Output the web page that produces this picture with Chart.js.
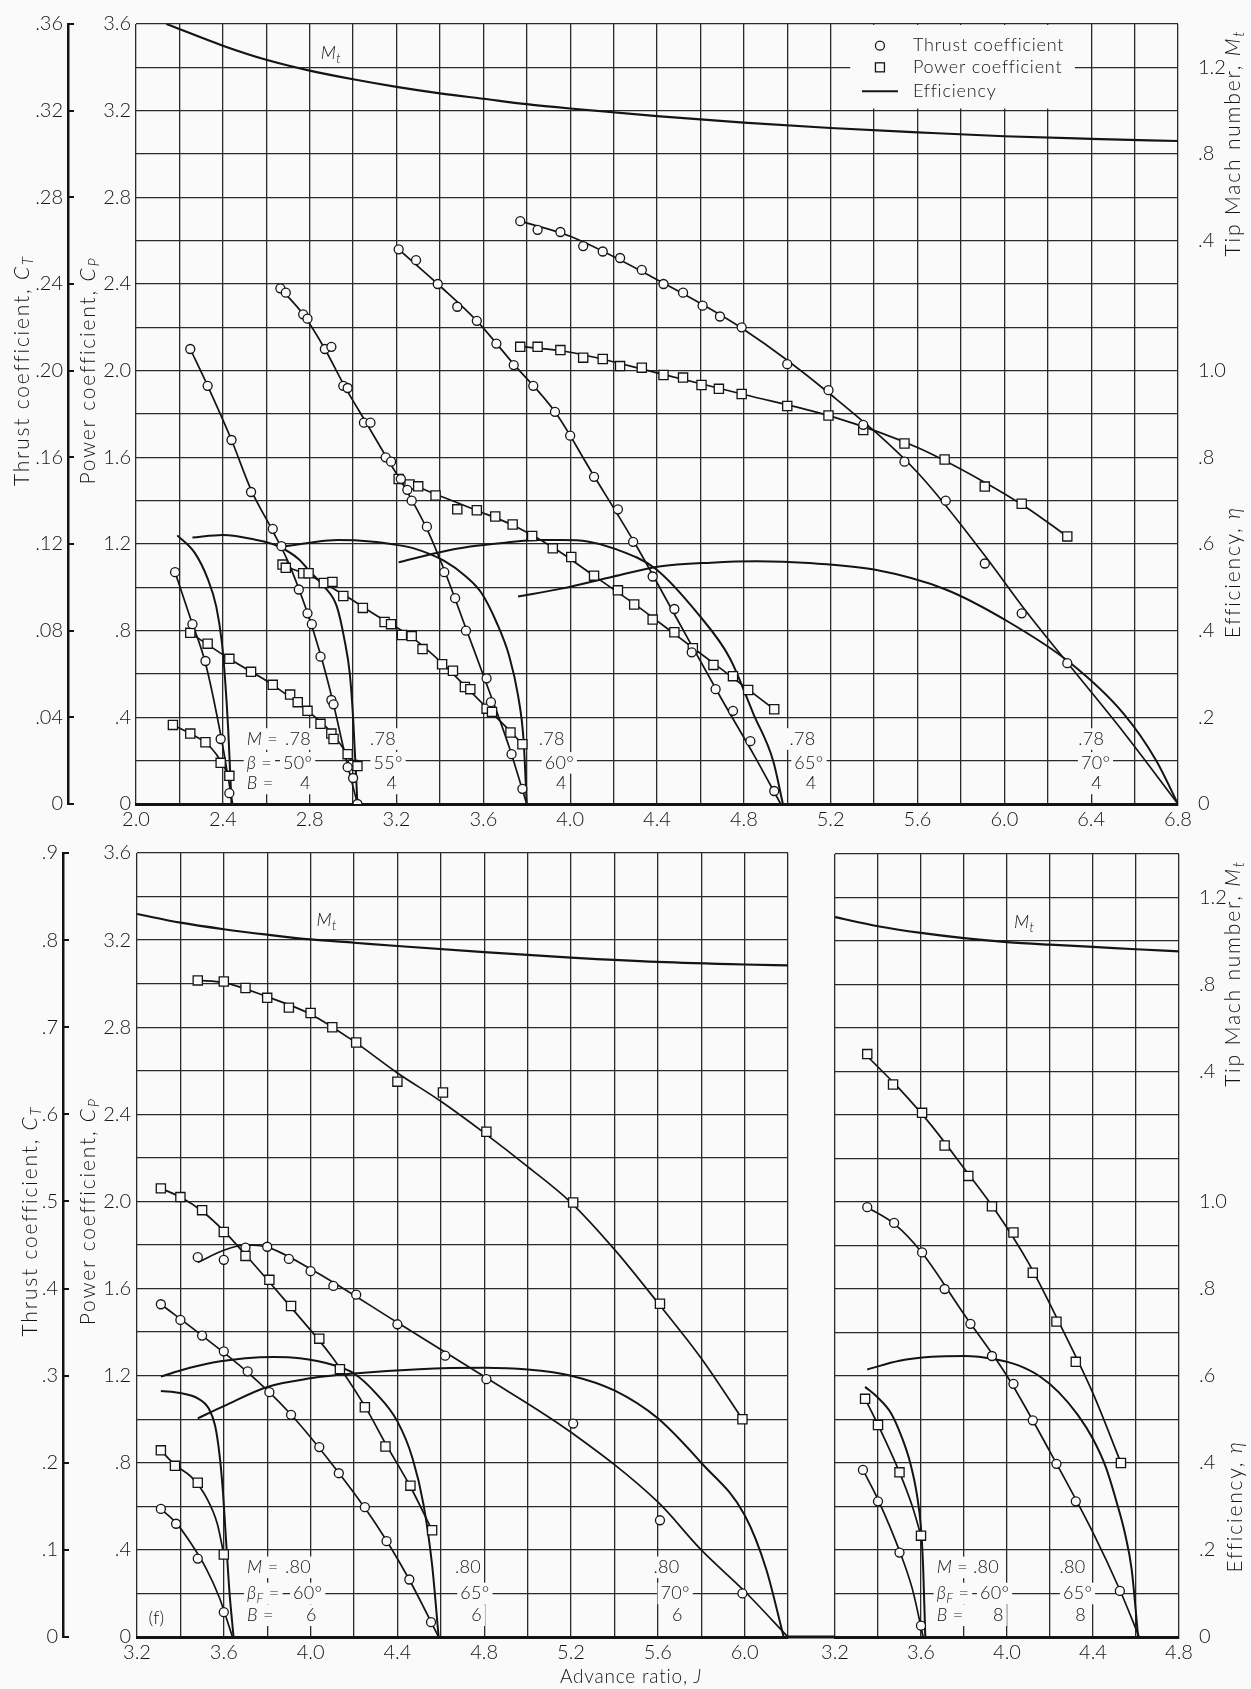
<!DOCTYPE html>
<html>
<head>
<meta charset="utf-8">
<title>Propeller thrust, power and efficiency</title>
<script src="https://cdn.jsdelivr.net/npm/chart.js"></script>
<style>
  body { margin: 0; background: #fafafa; }
  #sheet { position: relative; width: 1251px; height: 1689px; overflow: hidden; }
  #sheet canvas { position: absolute; }
</style>
</head>
<body>
<div id="sheet">
  <canvas id="upper" width="1251" height="845" style="left:0px;top:0px"></canvas>
  <canvas id="lowerLeft" width="800" height="859" style="left:0px;top:830px"></canvas>
  <canvas id="lowerRight" width="463" height="859" style="left:788px;top:830px"></canvas>
</div>

<script>
// ---------- tick labels ----------
const upperJLabels = ['2.0', '2.4', '2.8', '3.2', '3.6', '4.0', '4.4', '4.8', '5.2', '5.6', '6.0', '6.4', '6.8'];
const lowerLeftJLabels = ['3.2', '3.6', '4.0', '4.4', '4.8', '5.2', '5.6', '6.0'];
const lowerRightJLabels = ['3.2', '3.6', '4.0', '4.4', '4.8'];
const cpLabels = ['0', '.4', '.8', '1.2', '1.6', '2.0', '2.4', '2.8', '3.2', '3.6'];
const ctUpperLabels = ['0', '.04', '.08', '.12', '.16', '.20', '.24', '.28', '.32', '.36'];
const ctLowerLabels = ['0', '.1', '.2', '.3', '.4', '.5', '.6', '.7', '.8', '.9'];
const machLabels = ['.4', '.8', '1.2'];
const etaLabels = ['0', '.2', '.4', '.6', '.8', '1.0'];
const legendLabels = ['Thrust coefficient', 'Power coefficient', 'Efficiency'];

// ---------- configurations (M, blade angle, blade count) ----------
const mach4 = ['.78', '.78', '.78', '.78', '.78'];
const beta4 = ['50°', '55°', '60°', '65°', '70°'];
const blades4 = ['4', '4', '4', '4', '4'];
const mach6 = ['.80', '.80', '.80'];
const beta6 = ['60°', '65°', '70°'];
const blades6 = ['6', '6', '6'];
const mach8 = ['.80', '.80'];
const beta8 = ['60°', '65°'];
const blades8 = ['8', '8'];

// ---------- upper panel, B = 4, M = .78 ----------
const mt4J = [2.14, 2.4, 2.6, 2.8, 3.0, 3.2, 3.4, 3.6, 3.8, 4.0, 4.4, 4.8, 5.2, 5.6, 6.0, 6.4, 6.8];
const mt4 = [1.40, 1.30, 1.235, 1.185, 1.145, 1.11, 1.08, 1.055, 1.03, 1.01, .975, .945, .92, .90, .882, .87, .86];

// beta 50
const thr50J = [2.18, 2.26, 2.32, 2.39, 2.43];
const thr50 = [.107, .083, .066, .030, .005];
const thr50FitJ = [2.18, 2.25, 2.32, 2.39, 2.445];
const thr50Fit = [.107, .086, .065, .032, 0];
const pow50J = [2.17, 2.25, 2.32, 2.39, 2.43];
const pow50 = [.365, .325, .285, .19, .13];
const pow50FitJ = [2.17, 2.25, 2.32, 2.37, 2.40, 2.43];
const pow50Fit = [.365, .325, .283, .23, .18, .13];
const eff50J = [2.19, 2.27, 2.33, 2.37, 2.395, 2.41, 2.425, 2.44];
const eff50 = [.62, .58, .52, .455, .375, .29, .17, 0];

// beta 55
const thr55J = [2.25, 2.33, 2.44, 2.53, 2.63, 2.67, 2.75, 2.79, 2.81, 2.85, 2.90, 2.91, 2.975, 3.00, 3.02];
const thr55 = [.210, .193, .168, .144, .127, .119, .099, .088, .083, .068, .048, .046, .017, .012, 0];
const thr55FitJ = [2.25, 2.33, 2.44, 2.53, 2.63, 2.70, 2.78, 2.85, 2.91, 2.96, 3.02];
const thr55Fit = [.210, .193, .168, .145, .126, .112, .091, .069, .046, .024, 0];
const pow55J = [2.25, 2.33, 2.43, 2.53, 2.63, 2.71, 2.745, 2.79, 2.85, 2.90, 2.91, 2.975, 3.00, 3.02];
const pow55 = [.79, .74, .67, .61, .55, .505, .47, .43, .37, .325, .30, .23, .18, .175];
const pow55FitJ = [2.25, 2.43, 2.63, 2.79, 2.90, 2.96, 3.00, 3.02];
const pow55Fit = [.79, .67, .55, .43, .33, .25, .19, .175];
const eff55J = [2.26, 2.40, 2.55, 2.65, 2.75, 2.80, 2.87, 2.925, 2.96, 2.985, 3.00, 3.02];
const eff55 = [.615, .621, .61, .596, .565, .537, .50, .456, .38, .30, .20, 0];

// beta 60
const thr60J = [2.665, 2.69, 2.77, 2.79, 2.87, 2.90, 2.955, 2.975, 3.05, 3.08, 3.15, 3.175, 3.22, 3.25, 3.27, 3.34, 3.42, 3.47, 3.52, 3.615, 3.635, 3.73, 3.78];
const thr60 = [.238, .236, .226, .224, .210, .211, .193, .192, .176, .176, .160, .158, .150, .145, .140, .128, .107, .095, .080, .058, .047, .023, .007];
const thr60FitJ = [2.665, 2.77, 2.87, 2.96, 3.06, 3.16, 3.25, 3.34, 3.42, 3.52, 3.62, 3.72, 3.80];
const thr60Fit = [.238, .226, .210, .193, .176, .159, .144, .127, .108, .081, .054, .026, 0];
const pow60J = [2.675, 2.69, 2.77, 2.795, 2.865, 2.905, 2.955, 3.045, 3.145, 3.175, 3.225, 3.27, 3.32, 3.41, 3.46, 3.515, 3.54, 3.615, 3.64, 3.725, 3.78];
const pow60 = [1.105, 1.09, 1.065, 1.065, 1.02, 1.025, .96, .905, .84, .83, .78, .775, .715, .645, .615, .54, .53, .44, .425, .33, .276];
const pow60FitJ = [2.675, 2.80, 2.95, 3.10, 3.27, 3.41, 3.52, 3.62, 3.73, 3.78];
const pow60Fit = [1.10, 1.055, .97, .875, .77, .65, .54, .44, .33, .276];
const eff60J = [2.68, 2.80, 2.93, 3.08, 3.20, 3.28, 3.42, 3.52, 3.59, 3.66, 3.72, 3.76, 3.785, 3.80];
const eff60 = [.594, .603, .609, .606, .598, .59, .561, .525, .488, .42, .34, .25, .15, 0];

// beta 65
const thr65J = [3.21, 3.29, 3.39, 3.48, 3.57, 3.66, 3.74, 3.83, 3.93, 4.00, 4.11, 4.22, 4.29, 4.38, 4.48, 4.56, 4.67, 4.75, 4.83, 4.94];
const thr65 = [.256, .251, .240, .2295, .223, .2125, .2026, .193, .181, .170, .151, .136, .121, .105, .090, .070, .053, .043, .029, .006];
const thr65FitJ = [3.21, 3.39, 3.57, 3.74, 3.93, 4.10, 4.30, 4.50, 4.70, 4.85, 4.97];
const thr65Fit = [.256, .240, .223, .203, .181, .153, .120, .084, .048, .022, 0];
const pow65J = [3.21, 3.26, 3.30, 3.38, 3.48, 3.57, 3.655, 3.735, 3.825, 3.92, 4.005, 4.11, 4.22, 4.295, 4.38, 4.48, 4.565, 4.66, 4.75, 4.82, 4.94];
const pow65 = [1.50, 1.475, 1.466, 1.424, 1.36, 1.356, 1.327, 1.29, 1.237, 1.18, 1.14, 1.054, .986, .921, .851, .793, .719, .642, .59, .526, .437];
const pow65FitJ = [3.21, 3.38, 3.57, 3.74, 3.92, 4.10, 4.30, 4.50, 4.70, 4.94];
const pow65Fit = [1.50, 1.43, 1.355, 1.285, 1.185, 1.06, .92, .77, .62, .437];
const eff65J = [3.21, 3.39, 3.54, 3.70, 3.85, 3.96, 4.08, 4.20, 4.39, 4.59, 4.735, 4.845, 4.935, 4.98];
const eff65 = [.558, .58, .594, .603, .609, .609, .606, .59, .544, .438, .337, .207, .10, 0];

// beta 70
const thr70J = [3.77, 3.85, 3.955, 4.06, 4.15, 4.23, 4.33, 4.43, 4.52, 4.61, 4.69, 4.79, 5.00, 5.19, 5.35, 5.54, 5.73, 5.91, 6.08, 6.29];
const thr70 = [.269, .265, .264, .2575, .255, .252, .2465, .240, .236, .230, .225, .220, .203, .191, .175, .158, .140, .111, .088, .065];
const thr70FitJ = [3.77, 4.0, 4.4, 4.8, 5.2, 5.6, 5.9, 6.1, 6.3, 6.55, 6.8];
const thr70Fit = [.269, .262, .242, .219, .189, .153, .116, .089, .064, .033, 0];
const pow70J = [3.77, 3.85, 3.955, 4.06, 4.15, 4.23, 4.33, 4.43, 4.52, 4.605, 4.685, 4.79, 5.00, 5.19, 5.35, 5.54, 5.725, 5.91, 6.08, 6.29];
const pow70 = [2.11, 2.11, 2.095, 2.06, 2.054, 2.021, 2.014, 1.98, 1.968, 1.934, 1.916, 1.892, 1.837, 1.793, 1.726, 1.664, 1.59, 1.465, 1.386, 1.235];
const pow70FitJ = [3.77, 4.0, 4.4, 4.8, 5.2, 5.6, 5.9, 6.1, 6.29];
const pow70Fit = [2.112, 2.085, 1.99, 1.89, 1.79, 1.645, 1.49, 1.37, 1.235];
const eff70J = [3.76, 3.96, 4.2, 4.41, 4.65, 4.86, 5.1, 5.4, 5.73, 6.02, 6.3, 6.55, 6.7, 6.8];
const eff70 = [.479, .497, .525, .548, .557, .56, .556, .541, .495, .42, .327, .208, .10, 0];

// ---------- lower left panel, B = 6, M = .80 ----------
const mt6J = [3.2, 3.4, 3.6, 3.8, 4.0, 4.2, 4.4, 4.8, 5.2, 5.6, 6.0, 6.2];
const mt6 = [1.12, 1.08, 1.05, 1.025, 1.003, .988, .973, .945, .92, .90, .888, .884];

const thr60b6J = [3.31, 3.38, 3.48, 3.60];
const thr60b6 = [.147, .13, .09, .0285];
const thr60b6FitJ = [3.31, 3.38, 3.45, 3.52, 3.58, 3.64];
const thr60b6Fit = [.147, .131, .107, .078, .045, 0];
const pow60b6J = [3.31, 3.375, 3.48, 3.60];
const pow60b6 = [.857, .786, .708, .379];
const pow60b6FitJ = [3.31, 3.375, 3.45, 3.52, 3.57, 3.60];
const pow60b6Fit = [.857, .79, .735, .64, .52, .38];
const eff60b6J = [3.31, 3.40, 3.48, 3.53, 3.56, 3.58, 3.595, 3.61, 3.625, 3.645];
const eff60b6 = [.565, .56, .548, .525, .485, .42, .34, .225, .11, 0];

const thr65b6J = [3.31, 3.40, 3.50, 3.60, 3.71, 3.81, 3.91, 4.04, 4.13, 4.25, 4.35, 4.455, 4.555];
const thr65b6 = [.382, .364, .346, .328, .305, .281, .255, .218, .188, .149, .110, .066, .017];
const thr65b6FitJ = [3.31, 3.5, 3.7, 3.9, 4.1, 4.3, 4.45, 4.59];
const thr65b6Fit = [.382, .346, .306, .258, .198, .130, .068, 0];
const pow65b6J = [3.31, 3.40, 3.50, 3.60, 3.70, 3.81, 3.91, 4.04, 4.135, 4.25, 4.345, 4.46, 4.56];
const pow65b6 = [2.06, 2.02, 1.96, 1.86, 1.75, 1.64, 1.52, 1.37, 1.23, 1.055, .875, .695, .49];
const pow65b6FitJ = [3.31, 3.4, 3.5, 3.6, 3.7, 3.9, 4.1, 4.25, 4.35, 4.46, 4.56];
const pow65b6Fit = [2.06, 2.02, 1.955, 1.865, 1.755, 1.525, 1.285, 1.06, .88, .69, .49];
const eff65b6J = [3.31, 3.40, 3.55, 3.70, 3.83, 3.95, 4.10, 4.20, 4.30, 4.40, 4.47, 4.52, 4.56, 4.59];
const eff65b6 = [.598, .612, .63, .64, .643, .64, .625, .605, .56, .495, .41, .305, .165, 0];

const thr70b6J = [3.48, 3.60, 3.70, 3.80, 3.90, 4.00, 4.105, 4.21, 4.40, 4.62, 4.81, 5.21, 5.61, 5.99];
const thr70b6 = [.436, .433, .447, .448, .434, .42, .403, .393, .359, .323, .296, .245, .134, .050];
const thr70b6FitJ = [3.48, 3.6, 3.7, 3.8, 4.0, 4.4, 4.8, 5.2, 5.6, 5.8, 6.0, 6.2];
const thr70b6Fit = [.43, .444, .45, .4475, .4225, .361, .299, .235, .155, .10, .0525, 0];
const pow70b6J = [3.48, 3.60, 3.70, 3.80, 3.90, 4.00, 4.10, 4.21, 4.40, 4.61, 4.81, 5.21, 5.61, 5.99];
const pow70b6 = [3.015, 3.01, 2.98, 2.935, 2.89, 2.865, 2.80, 2.73, 2.55, 2.50, 2.32, 1.995, 1.53, 1.0];
const pow70b6FitJ = [3.48, 3.6, 3.8, 4.0, 4.2, 4.4, 4.6, 4.8, 5.0, 5.2, 5.4, 5.6, 5.8, 5.99];
const pow70b6Fit = [3.015, 3.005, 2.94, 2.86, 2.735, 2.59, 2.46, 2.315, 2.16, 1.995, 1.78, 1.535, 1.28, 1.0];
const eff70b6J = [3.48, 3.6, 3.8, 4.0, 4.2, 4.5, 4.8, 5.0, 5.2, 5.4, 5.6, 5.8, 6.0, 6.1, 6.18];
const eff70b6 = [.502, .53, .574, .594, .605, .615, .618, .614, .60, .566, .502, .40, .28, .155, 0];

// ---------- lower right panel, B = 8, M = .80 ----------
const mt8J = [3.2, 3.4, 3.6, 3.8, 4.0, 4.2, 4.4, 4.6, 4.8];
const mt8 = [1.11, 1.068, 1.037, 1.013, .995, .983, .973, .962, .952];

const thr60b8J = [3.33, 3.40, 3.50, 3.60];
const thr60b8 = [.192, .156, .097, .013];
const thr60b8FitJ = [3.33, 3.40, 3.50, 3.56, 3.61];
const thr60b8Fit = [.192, .158, .099, .055, 0];
const pow60b8J = [3.34, 3.40, 3.50, 3.60];
const pow60b8 = [1.095, .975, .757, .466];
const pow60b8FitJ = [3.34, 3.40, 3.50, 3.56, 3.60];
const pow60b8Fit = [1.095, .975, .757, .60, .466];
const eff60b8J = [3.34, 3.40, 3.46, 3.51, 3.55, 3.58, 3.60, 3.61, 3.62];
const eff60b8 = [.575, .55, .515, .46, .40, .33, .25, .16, 0];

const thr65b8J = [3.35, 3.475, 3.605, 3.71, 3.83, 3.93, 4.03, 4.12, 4.23, 4.32, 4.525];
const thr65b8 = [.494, .476, .442, .40, .36, .323, .291, .249, .199, .156, .053];
const thr65b8FitJ = [3.35, 3.48, 3.6, 3.8, 4.0, 4.2, 4.4, 4.525, 4.615];
const thr65b8Fit = [.494, .474, .443, .371, .30, .213, .12, .054, 0];
const pow65b8J = [3.35, 3.47, 3.605, 3.71, 3.82, 3.93, 4.03, 4.12, 4.23, 4.32, 4.53];
const pow65b8 = [2.68, 2.54, 2.41, 2.26, 2.12, 1.98, 1.86, 1.675, 1.45, 1.265, .80];
const pow65b8FitJ = [3.35, 3.5, 3.65, 3.8, 3.95, 4.1, 4.25, 4.4, 4.53];
const pow65b8Fit = [2.67, 2.52, 2.35, 2.155, 1.955, 1.72, 1.43, 1.12, .80];
const eff65b8J = [3.35, 3.5, 3.65, 3.80, 3.95, 4.05, 4.15, 4.24, 4.33, 4.40, 4.46, 4.51, 4.55, 4.58, 4.61];
const eff65b8 = [.615, .635, .644, .646, .638, .625, .60, .563, .51, .455, .39, .31, .235, .155, 0];

// ---------- look ----------
const INK = '#141414';
const GRID = '#2a2a2a';
const PAPER = '#fafafa';
const FAMILY = 'Lato, "DejaVu Sans", sans-serif';
const WEIGHT = '300';

// the Mach and efficiency scales share the power-coefficient grid
const MACH_RANGE = [-2.2, 1.4];
const ETA_RANGE = [0, 1.8];
const machToEta = m => (m - MACH_RANGE[0]) / (MACH_RANGE[1] - MACH_RANGE[0]) * (ETA_RANGE[1] - ETA_RANGE[0]) + ETA_RANGE[0];

Chart.defaults.font.family = FAMILY;
Chart.defaults.font.size = 20;
Chart.defaults.font.weight = WEIGHT;
Chart.defaults.color = INK;

const xy = (xs, ys) => xs.map((x, i) => ({ x: x, y: ys[i] }));
const near = (a, b) => Math.abs(a - b) < 1e-6;
const pick = labels => v => {
  const i = labels.findIndex(l => near(parseFloat(l), v));
  return i < 0 ? '' : labels[i];
};

function marks(xs, ys, axis, shape) {
  return {
    data: xy(xs, ys), yAxisID: axis, showLine: false,
    pointStyle: shape, pointRadius: shape === 'rect' ? 6.5 : 4.5,
    pointBackgroundColor: PAPER, pointBorderColor: INK, pointBorderWidth: 1.3,
    order: 0
  };
}

function curve(xs, ys, axis, width) {
  return {
    data: xy(xs, ys), yAxisID: axis, borderColor: INK, borderWidth: width,
    pointRadius: 0, cubicInterpolationMode: 'monotone', fill: false, order: 1
  };
}

// one blade-angle family: faired thrust, power and efficiency curves plus test points
function family(tJ, t, tfJ, tf, pJ, p, pfJ, pf, eJ, e) {
  return [
    curve(tfJ, tf, 'yCT', 1.7),
    curve(pfJ, pf, 'y', 1.7),
    curve(eJ, e, 'yEta', 2.0),
    marks(tJ, t, 'yCT', 'circle'),
    marks(pJ, p, 'y', 'rect')
  ];
}

// ---------- axes ----------
function jAxis(min, max, labels, height) {
  return {
    type: 'linear', position: 'bottom', min: min, max: max,
    ticks: { stepSize: 0.2, autoSkip: false, maxRotation: 0, minRotation: 0, padding: 4, callback: pick(labels) },
    grid: { color: GRID, lineWidth: 1.3, drawTicks: false },
    border: { color: INK, width: 3 },
    afterFit: s => { s.height = height; }
  };
}

function cpAxis(width, pad, showLabels) {
  return {
    type: 'linear', position: 'left', weight: 0, min: 0, max: 3.6,
    ticks: { display: showLabels, stepSize: 0.2, autoSkip: false, padding: pad, callback: pick(cpLabels) },
    grid: { color: GRID, lineWidth: 1.3, drawTicks: false },
    border: { display: false },
    afterFit: s => { s.width = width; }
  };
}

function ctAxis(max, step, labels, width, show) {
  return {
    type: 'linear', position: 'left', weight: 1, min: 0, max: max, display: show,
    ticks: { stepSize: step, autoSkip: false, padding: 11, callback: pick(labels) },
    grid: { drawOnChartArea: false, tickLength: -6, color: INK, lineWidth: 2 },
    border: { color: INK, width: 2.5 },
    afterFit: s => { s.width = width; }
  };
}

// hidden Mach scale: only maps the tip Mach number curve
function machAxis() {
  return {
    type: 'linear', position: 'right', min: MACH_RANGE[0], max: MACH_RANGE[1], display: false,
    afterFit: s => { s.width = 0; }
  };
}

// right-hand scale carries both the efficiency and the tip Mach number labels
function sideAxis(width, show) {
  return {
    type: 'linear', position: 'right', min: ETA_RANGE[0], max: ETA_RANGE[1], display: show,
    afterBuildTicks: s => {
      const vals = etaLabels.map(l => parseFloat(l)).concat(machLabels.map(l => machToEta(parseFloat(l))));
      s.ticks = vals.sort((a, b) => a - b).map(v => ({ value: v }));
    },
    ticks: {
      autoSkip: false, padding: 12,
      callback: v => {
        const e = etaLabels.find(l => near(parseFloat(l), v));
        if (e) return e;
        const m = machLabels.find(l => near(machToEta(parseFloat(l)), v));
        return m || '';
      }
    },
    grid: { display: false },
    border: { display: false },
    afterFit: s => { s.width = width; }
  };
}

// ---------- text helpers ----------
function runFont(run, size) {
  const s = run[2] ? Math.round(size * 0.72) : size;
  return (run[1] ? 'italic ' : '') + WEIGHT + ' ' + s + 'px ' + FAMILY;
}

function drawRuns(ctx, x, y, runs, size, align, bg, spacing) {
  ctx.letterSpacing = (spacing || 0) + 'px';
  let w = 0;
  runs.forEach(r => { ctx.font = runFont(r, size); w += ctx.measureText(r[0]).width; });
  let cx = align === 'center' ? x - w / 2 : (align === 'right' ? x - w : x);
  if (bg) {
    ctx.fillStyle = PAPER;
    ctx.fillRect(cx - 3, y - size * 0.6, w + 6, size * 1.2);
  }
  ctx.fillStyle = INK;
  ctx.textAlign = 'left';
  ctx.textBaseline = 'middle';
  runs.forEach(r => {
    ctx.font = runFont(r, size);
    ctx.fillText(r[0], cx, r[2] ? y + size * 0.3 : y);
    cx += ctx.measureText(r[0]).width;
  });
  ctx.letterSpacing = '0px';
}

// a column of three stacked configuration values
function tagColumn(js, rows, texts, align) {
  return texts.map((t, k) => ({ j: js[k], cp: rows[k], r: [[t]], a: align }));
}

function keyColumn(j, rows, betaKey) {
  return [
    { j: j, cp: rows[0], r: [['M', 1], [' =']] },
    { j: j, cp: rows[1], r: betaKey },
    { j: j, cp: rows[2], r: [['B', 1], [' =']] }
  ];
}

function drawLegend(ctx, sx, sy, L) {
  const x0 = sx.getPixelForValue(L.j0), x1 = sx.getPixelForValue(L.j1);
  const y0 = sy.getPixelForValue(L.cpTop), y1 = sy.getPixelForValue(L.cpBottom);
  ctx.fillStyle = PAPER;
  ctx.fillRect(x0, y0 + 1, x1 - x0, y1 - y0 - 1);
  ctx.strokeStyle = INK;
  L.rows.forEach((cp, k) => {
    const y = sy.getPixelForValue(cp);
    const xs = sx.getPixelForValue(L.jSym);
    if (k === 0) {
      ctx.lineWidth = 1.3;
      ctx.beginPath(); ctx.arc(xs, y, 4.5, 0, Math.PI * 2); ctx.stroke();
    } else if (k === 1) {
      ctx.lineWidth = 1.3;
      ctx.strokeRect(xs - 4.5, y - 4.5, 9, 9);
    } else {
      ctx.lineWidth = 2;
      ctx.beginPath();
      ctx.moveTo(sx.getPixelForValue(L.jLine[0]), y);
      ctx.lineTo(sx.getPixelForValue(L.jLine[1]), y);
      ctx.stroke();
    }
    drawRuns(ctx, sx.getPixelForValue(L.jText), y, [[legendLabels[k]]], 18, 'left', false, 0.8);
  });
}

function notesPlugin(notes) {
  return {
    id: 'notes',
    beforeDatasetsDraw(chart) {
      const ctx = chart.ctx, sx = chart.scales.x, sy = chart.scales.y;
      ctx.save();
      if (notes.legend) drawLegend(ctx, sx, sy, notes.legend);
      (notes.items || []).forEach(n => {
        drawRuns(ctx, sx.getPixelForValue(n.j), sy.getPixelForValue(n.cp), n.r, 18, n.a || 'left', n.bg !== false, 0.3);
      });
      ctx.restore();
    },
    afterDraw(chart) {
      const ctx = chart.ctx, sy = chart.scales.y;
      ctx.save();
      (notes.titles || []).forEach(t => {
        ctx.save();
        ctx.translate(t.x, sy.getPixelForValue(t.cp));
        ctx.rotate(-Math.PI / 2);
        drawRuns(ctx, 0, 0, t.r, 21, 'center', false, 1.8);
        ctx.restore();
      });
      (notes.captions || []).forEach(c => drawRuns(ctx, c.x, c.y, c.r, 19, 'center', false, 0.8));
      if (notes.bridge) {
        // base line carried across the gap between the two lower panels
        const yb = sy.getPixelForValue(0);
        ctx.strokeStyle = INK;
        ctx.lineWidth = 3;
        ctx.beginPath();
        ctx.moveTo(0, yb);
        ctx.lineTo(chart.chartArea.left, yb);
        ctx.stroke();
      }
      ctx.restore();
    }
  };
}

function build(id, scales, padding, datasets, notes) {
  return new Chart(document.getElementById(id), {
    type: 'line',
    data: { datasets: datasets },
    options: {
      responsive: false, animation: false, devicePixelRatio: 1, events: [],
      layout: { padding: padding },
      plugins: { legend: { display: false }, tooltip: { enabled: false } },
      scales: scales
    },
    plugins: [notesPlugin(notes)]
  });
}

const mtRun = [['M', 1], ['t', 1, 1]];
const thrustTitle = [['Thrust coefficient, '], ['C', 1], ['T', 1, 1]];
const powerTitle = [['Power coefficient, '], ['C', 1], ['P', 1, 1]];
const machTitle = [['Tip Mach number, '], ['M', 1], ['t', 1, 1]];
const effTitle = [['Efficiency, '], ['η', 1]];

// ---------- upper panel ----------
const rowsUpper = [.30, .19, .095];
build('upper', {
  x: jAxis(2.0, 6.8, upperJLabels, 41),
  y: cpAxis(68, 5, true),
  yCT: ctAxis(0.36, 0.04, ctUpperLabels, 68, true),
  yM: machAxis(),
  yEta: sideAxis(73, true)
}, { top: 18, left: 0, right: 0, bottom: 0 }, [
  curve(mt4J, mt4, 'yM', 2.2),
  ...family(thr50J, thr50, thr50FitJ, thr50Fit, pow50J, pow50, pow50FitJ, pow50Fit, eff50J, eff50),
  ...family(thr55J, thr55, thr55FitJ, thr55Fit, pow55J, pow55, pow55FitJ, pow55Fit, eff55J, eff55),
  ...family(thr60J, thr60, thr60FitJ, thr60Fit, pow60J, pow60, pow60FitJ, pow60Fit, eff60J, eff60),
  ...family(thr65J, thr65, thr65FitJ, thr65Fit, pow65J, pow65, pow65FitJ, pow65Fit, eff65J, eff65),
  ...family(thr70J, thr70, thr70FitJ, thr70Fit, pow70J, pow70, pow70FitJ, pow70Fit, eff70J, eff70)
], {
  legend: { j0: 5.29, j1: 6.325, cpTop: 3.6, cpBottom: 3.21, rows: [3.50, 3.40, 3.29], jSym: 5.427, jLine: [5.344, 5.51], jText: 5.579 },
  items: [
    { j: 2.898, cp: 3.463, r: mtRun, a: 'center', bg: false },
    ...keyColumn(2.51, rowsUpper, [['β', 1], [' =']]),
    ...tagColumn([2.686, 2.677, 2.755], rowsUpper, [mach4[0], beta4[0], blades4[0]], 'left'),
    ...tagColumn([3.138, 3.161, 3.179], rowsUpper, [mach4[1], beta4[1], blades4[1]], 'center'),
    ...tagColumn([3.915, 3.95, 3.96], rowsUpper, [mach4[2], beta4[2], blades4[2]], 'center'),
    ...tagColumn([5.07, 5.10, 5.11], rowsUpper, [mach4[3], beta4[3], blades4[3]], 'center'),
    ...tagColumn([6.40, 6.42, 6.425], rowsUpper, [mach4[4], beta4[4], blades4[4]], 'center')
  ],
  titles: [
    { x: 22, cp: 2.0, r: thrustTitle },
    { x: 88, cp: 2.0, r: powerTitle },
    { x: 1233, cp: 3.05, r: machTitle },
    { x: 1233, cp: 1.07, r: effTitle }
  ]
});

// ---------- lower left panel ----------
const rowsLower = [.32, .20, .10];
const betaFKey = [['β', 1], ['F', 1, 1], [' =']];
build('lowerLeft', {
  x: jAxis(3.2, 6.2, lowerLeftJLabels, 52),
  y: cpAxis(74, 6, true),
  yCT: ctAxis(0.9, 0.1, ctLowerLabels, 63, true),
  yM: machAxis(),
  yEta: sideAxis(0, false)
}, { top: 19, left: 0, right: 12, bottom: 0 }, [
  curve(mt6J, mt6, 'yM', 2.2),
  ...family(thr60b6J, thr60b6, thr60b6FitJ, thr60b6Fit, pow60b6J, pow60b6, pow60b6FitJ, pow60b6Fit, eff60b6J, eff60b6),
  ...family(thr65b6J, thr65b6, thr65b6FitJ, thr65b6Fit, pow65b6J, pow65b6, pow65b6FitJ, pow65b6Fit, eff65b6J, eff65b6),
  ...family(thr70b6J, thr70b6, thr70b6FitJ, thr70b6Fit, pow70b6J, pow70b6, pow70b6FitJ, pow70b6Fit, eff70b6J, eff70b6)
], {
  items: [
    { j: 4.074, cp: 3.29, r: mtRun, a: 'center', bg: false },
    { j: 3.29, cp: .087, r: [['(f)']], a: 'center', bg: false },
    ...keyColumn(3.707, rowsLower, betaFKey),
    ...tagColumn([3.882, 3.919, 3.979], rowsLower, [mach6[0], beta6[0], blades6[0]], 'left'),
    ...tagColumn([4.725, 4.757, 4.765], rowsLower, [mach6[1], beta6[1], blades6[1]], 'center'),
    ...tagColumn([5.64, 5.68, 5.69], rowsLower, [mach6[2], beta6[2], blades6[2]], 'center')
  ],
  titles: [
    { x: 30, cp: 1.91, r: thrustTitle },
    { x: 88, cp: 1.955, r: powerTitle }
  ],
  captions: [
    { x: 631, y: 847, r: [['Advance ratio, '], ['J', 1]] }
  ]
});

// ---------- lower right panel ----------
build('lowerRight', {
  x: jAxis(3.2, 4.8, lowerRightJLabels, 52),
  y: cpAxis(0, 0, false),
  yCT: ctAxis(0.9, 0.1, ctLowerLabels, 0, false),
  yM: machAxis(),
  yEta: sideAxis(72, true)
}, { top: 19, left: 47, right: 0, bottom: 0 }, [
  curve(mt8J, mt8, 'yM', 2.2),
  ...family(thr60b8J, thr60b8, thr60b8FitJ, thr60b8Fit, pow60b8J, pow60b8, pow60b8FitJ, pow60b8Fit, eff60b8J, eff60b8),
  ...family(thr65b8J, thr65b8, thr65b8FitJ, thr65b8Fit, pow65b8J, pow65b8, pow65b8FitJ, pow65b8Fit, eff65b8J, eff65b8)
], {
  bridge: true,
  items: [
    { j: 4.08, cp: 3.285, r: mtRun, a: 'center', bg: false },
    ...keyColumn(3.673, rowsLower, betaFKey),
    ...tagColumn([3.842, 3.874, 3.935], rowsLower, [mach8[0], beta8[0], blades8[0]], 'left'),
    ...tagColumn([4.305, 4.328, 4.343], rowsLower, [mach8[1], beta8[1], blades8[1]], 'center')
  ],
  titles: [
    { x: 445, cp: 3.05, r: machTitle },
    { x: 447, cp: 0.6, r: effTitle }
  ]
});
</script>
</body>
</html>
